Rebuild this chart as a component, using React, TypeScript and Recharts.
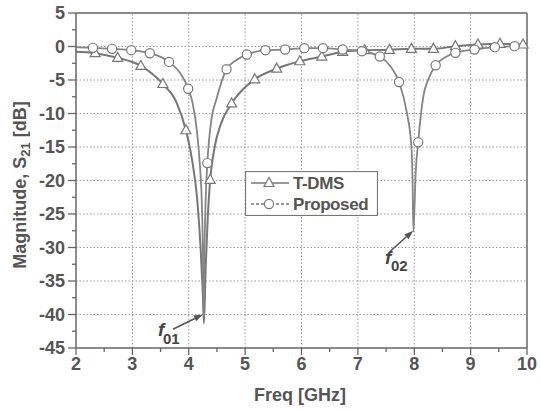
import React from "react";
import {
  ComposedChart,
  Line,
  Scatter,
  XAxis,
  YAxis,
  ReferenceLine,
  Legend,
  Label,
} from "recharts";

// ---------- data ----------
const tdmsFreq = [2.0, 2.34, 2.74, 3.15, 3.54, 3.78, 3.95, 4.05, 4.15, 4.21, 4.25, 4.27, 4.3, 4.34, 4.38, 4.46, 4.56, 4.76, 4.95, 5.17, 5.56, 5.97, 6.36, 6.73, 7.12, 7.56, 7.95, 8.34, 8.73, 9.13, 9.52, 9.93, 10.0];
const tdmsDb = [-0.8, -1.0, -1.7, -2.9, -5.6, -8.3, -12.5, -16.5, -22.8, -30, -37, -41.3, -33, -25, -19.9, -15.0, -11.8, -8.5, -6.5, -4.9, -3.3, -2.2, -1.5, -0.8, -0.55, -0.5, -0.35, -0.35, 0.05, 0.3, 0.4, 0.3, 0.3];
const tdmsMarkerIdx = [1, 2, 3, 4, 6, 14, 17, 19, 20, 21, 22, 23, 24, 25, 26, 27, 28, 29, 30, 31];

const propFreq = [2.0, 2.3, 2.64, 2.98, 3.31, 3.65, 3.85, 3.99, 4.07, 4.15, 4.2, 4.23, 4.25, 4.265, 4.28, 4.3, 4.33, 4.4, 4.49, 4.67, 4.85, 5.03, 5.36, 5.71, 6.05, 6.38, 6.73, 7.07, 7.39, 7.58, 7.73, 7.86, 7.95, 7.97, 7.985, 8.005, 8.02, 8.07, 8.16, 8.25, 8.38, 8.55, 8.73, 9.07, 9.43, 9.78, 10.0];
const propDb = [-0.1, -0.2, -0.35, -0.55, -1.0, -2.3, -4.0, -6.3, -8.5, -13, -18, -22.8, -30, -40.5, -30, -22.8, -17.4, -11, -7.9, -3.4, -2.0, -1.2, -0.55, -0.45, -0.25, -0.25, -0.45, -0.7, -1.5, -3.0, -5.3, -9.5, -15, -20, -27.6, -24, -20, -14.3, -7.5, -4.9, -2.8, -1.6, -0.95, -0.45, -0.1, 0.05, 0.1];
const propMarkerIdx = [1, 2, 3, 4, 5, 7, 16, 19, 21, 22, 23, 24, 25, 26, 27, 28, 30, 37, 40, 42, 43, 44, 45];

const xTicks = [2, 2.5, 3, 3.5, 4, 4.5, 5, 5.5, 6, 6.5, 7, 7.5, 8, 8.5, 9, 9.5, 10];
const xMajor = [2, 3, 4, 5, 6, 7, 8, 9, 10];
const yTicks = [5, 2.5, 0, -2.5, -5, -7.5, -10, -12.5, -15, -17.5, -20, -22.5, -25, -27.5, -30, -32.5, -35, -37.5, -40, -42.5, -45];
const yMajor = [5, 0, -5, -10, -15, -20, -25, -30, -35, -40, -45];
const xGrid = [3, 4, 5, 6, 7, 8, 9];
const yGrid = [0, -5, -10, -15, -20, -25, -30, -35, -40];

// annotation arrows: [fromF, fromDb, toF, toDb]
const f01Arrow = [3.72, -42.2, 4.25, -40.0];
const f02Arrow = [7.57, -30.6, 7.98, -27.5];

const seriesNames = ["T-DMS", "Proposed"];

// ---------- build ----------
const tdmsLine = tdmsFreq.map((f, i) => ({ f, db: tdmsDb[i] }));
const propLine = propFreq.map((f, i) => ({ f, db: propDb[i] }));
const tdmsMarkers = tdmsMarkerIdx.map((i) => tdmsLine[i]);
const propMarkers = propMarkerIdx.map((i) => propLine[i]);

const FONT = '"Liberation Sans", Arial, Helvetica, sans-serif';
const TEXT = "#555";
const CURVE = "#777";
const AXIS = "#666";

const Tri = (props: any) => {
  const { cx, cy } = props;
  if (cx == null || cy == null) return null;
  return (
    <polygon
      points={`${cx},${cy - 5.5} ${cx - 5},${cy + 3.5} ${cx + 5},${cy + 3.5}`}
      fill="#fff"
      stroke={CURVE}
      strokeWidth={1.2}
    />
  );
};
const Circ = (props: any) => {
  const { cx, cy } = props;
  if (cx == null || cy == null) return null;
  return <circle cx={cx} cy={cy} r={4.6} fill="#fff" stroke={CURVE} strokeWidth={1.2} />;
};

const XTick = (props: any) => {
  const { x, y, payload } = props;
  const v = payload.value;
  const major = xMajor.includes(v);
  const axisY = y - 7 - 2;
  return (
    <g>
      <line x1={x} x2={x} y1={axisY} y2={axisY + (major ? 7 : 4)} stroke={AXIS} strokeWidth={1.3} />
      {major && (
        <text x={x} y={y} dy="0.71em" textAnchor="middle" fill={TEXT} fontFamily={FONT} fontWeight="bold" fontSize={18}>
          {v}
        </text>
      )}
    </g>
  );
};

const YTick = (props: any) => {
  const { x, y, payload } = props;
  const v = payload.value;
  const major = yMajor.includes(v);
  const axisX = x + 3 + 8;
  return (
    <g>
      <line x1={axisX - (major ? 8 : 4)} x2={axisX} y1={y} y2={y} stroke={AXIS} strokeWidth={1.3} />
      {major && (
        <text x={x} y={y} dy="0.355em" textAnchor="end" fill={TEXT} fontFamily={FONT} fontWeight="bold" fontSize={18}>
          {v}
        </text>
      )}
    </g>
  );
};

const makeArrow = (sub: string, fx: number, fy: number, sx: number, sy: number) => (p: any) => {
  const { x1, y1, x2, y2 } = p;
  if ([x1, y1, x2, y2].some((v) => v == null || isNaN(v))) return null;
  const a = Math.atan2(y2 - y1, x2 - x1);
  const L = 9;
  const W = 3.2;
  const bx = x2 - L * Math.cos(a);
  const by = y2 - L * Math.sin(a);
  const pts = `${x2},${y2} ${bx + W * Math.sin(a)},${by - W * Math.cos(a)} ${bx - W * Math.sin(a)},${by + W * Math.cos(a)}`;
  return (
    <g>
      <line x1={x1} y1={y1} x2={bx} y2={by} stroke="#555" strokeWidth={1.6} />
      <polygon points={pts} fill="#555" />
      <text x={x1 + fx} y={y1 + fy} fill="#444" fontFamily={FONT} fontWeight="bold" fontStyle="italic" fontSize={19}>
        f
      </text>
      <text x={x1 + sx} y={y1 + sy} fill="#444" fontFamily={FONT} fontWeight="bold" fontSize={15}>
        {sub}
      </text>
    </g>
  );
};

const LegendBox = () => (
  <svg width={133} height={45} style={{ display: "block" }}>
    <rect x={0.5} y={0.5} width={132} height={44} fill="#fff" stroke="#777" strokeWidth={1.2} />
    <line x1={6} x2={44} y1={12} y2={12} stroke={CURVE} strokeWidth={1.6} />
    <Tri cx={24} cy={12} />
    <text x={48} y={12} dy="0.36em" fill={TEXT} fontFamily={FONT} fontWeight="bold" fontSize={17} letterSpacing={-0.4}>
      {seriesNames[0]}
    </text>
    <line x1={6} x2={44} y1={33} y2={33} stroke={CURVE} strokeWidth={1.4} strokeDasharray="3 2" />
    <Circ cx={24} cy={33} />
    <text x={48} y={33} dy="0.36em" fill={TEXT} fontFamily={FONT} fontWeight="bold" fontSize={17} letterSpacing={-0.4}>
      {seriesNames[1]}
    </text>
  </svg>
);

export default function App() {
  return (
    <div style={{ position: "absolute", left: 0, top: 0, background: "#fff" }}>
      <ComposedChart width={540} height={411} margin={{ top: 13, right: 13, left: 0, bottom: 0 }}>
        <XAxis
          dataKey="f"
          type="number"
          domain={[2, 10]}
          ticks={xTicks}
          interval={0}
          tickSize={7}
          tickMargin={2}
          tickLine={false}
          tick={<XTick />}
          height={63}
          stroke={AXIS}
          strokeWidth={1.5}
        >
          <Label
            content={() => (
              <text x={300} y={401} textAnchor="middle" fill={TEXT} fontFamily={FONT} fontWeight="bold" fontSize={18}>
                Freq [GHz]
              </text>
            )}
          />
        </XAxis>
        <YAxis
          dataKey="db"
          type="number"
          domain={[-45, 5]}
          ticks={yTicks}
          interval={0}
          tickSize={8}
          tickMargin={3}
          tickLine={false}
          tick={<YTick />}
          width={76}
          stroke={AXIS}
          strokeWidth={1.5}
        >
          <Label
            content={() => (
              <text
                x={26}
                y={185}
                transform="rotate(-90, 26, 185)"
                textAnchor="middle"
                fill={TEXT}
                fontFamily={FONT}
                fontWeight="bold"
                fontSize={18}
              >
                Magnitude, S
                <tspan dy={4} fontSize={13}>21</tspan>
                <tspan dy={-4}> [dB]</tspan>
              </text>
            )}
          />
        </YAxis>

        {xGrid.map((v) => (
          <ReferenceLine key={"gx" + v} x={v} stroke="#999" strokeDasharray="1.5 2" strokeWidth={1} />
        ))}
        {yGrid.map((v) => (
          <ReferenceLine key={"gy" + v} y={v} stroke="#999" strokeDasharray="1.5 2" strokeWidth={1} />
        ))}
        <ReferenceLine y={5} stroke={AXIS} strokeWidth={1.5} />
        <ReferenceLine x={10} stroke={AXIS} strokeWidth={1.5} />

        <Line
          data={tdmsLine}
          dataKey="db"
          type="monotone"
          stroke={CURVE}
          strokeWidth={2}
          dot={false}
          activeDot={false}
          isAnimationActive={false}
          name={seriesNames[0]}
        />
        <Line
          data={propLine}
          dataKey="db"
          type="monotone"
          stroke="#858585"
          strokeWidth={1.8}
          dot={false}
          activeDot={false}
          isAnimationActive={false}
          name={seriesNames[1]}
        />
        <Scatter data={tdmsMarkers} dataKey="db" shape={<Tri />} isAnimationActive={false} legendType="none" />
        <Scatter data={propMarkers} dataKey="db" shape={<Circ />} isAnimationActive={false} legendType="none" />

        <ReferenceLine
          segment={[
            { x: f01Arrow[0], y: f01Arrow[1] },
            { x: f01Arrow[2], y: f01Arrow[3] },
          ]}
          shape={makeArrow("01", -15, 7, -10, 15)}
        />
        <ReferenceLine
          segment={[
            { x: f02Arrow[0], y: f02Arrow[1] },
            { x: f02Arrow[2], y: f02Arrow[3] },
          ]}
          shape={makeArrow("02", -5, 12, 1, 19)}
        />

        <Legend
          layout="vertical"
          verticalAlign="middle"
          align="center"
          content={() => <LegendBox />}
          wrapperStyle={{ position: "absolute", left: 245, top: 171, width: 133, height: 45 }}
        />
      </ComposedChart>
    </div>
  );
}
